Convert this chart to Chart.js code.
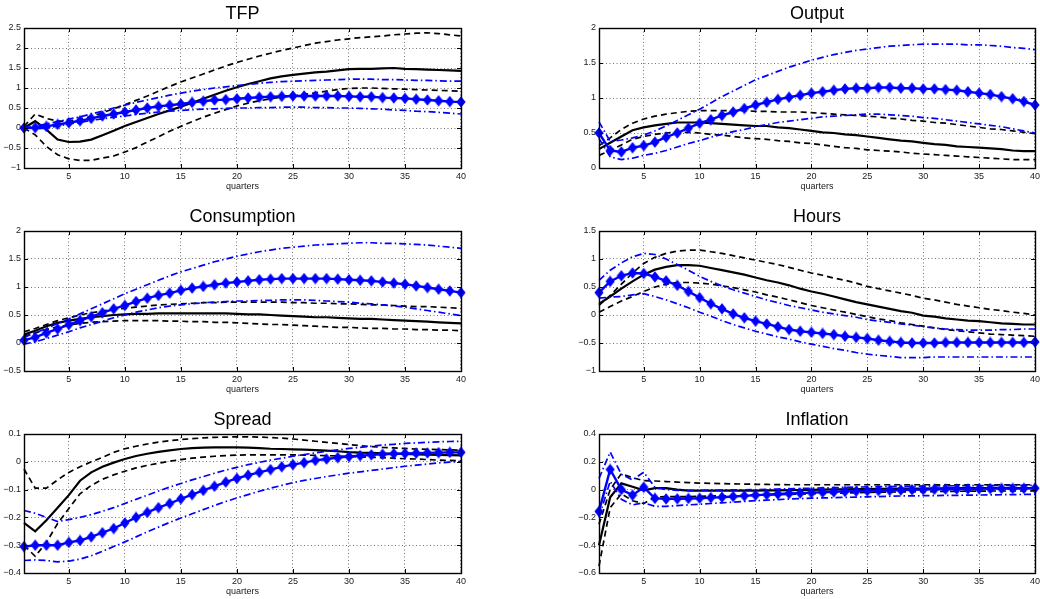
<!DOCTYPE html>
<html><head><meta charset="utf-8">
<script src="https://cdn.jsdelivr.net/npm/chart.js@4"></script>
<style>
body{margin:0;background:#fff;width:1040px;height:599px;overflow:hidden;position:relative;}
canvas{position:absolute;}
</style></head><body>
<canvas id="c0"></canvas><canvas id="c1"></canvas><canvas id="c2"></canvas>
<canvas id="c3"></canvas><canvas id="c4"></canvas><canvas id="c5"></canvas>
<script>
// ---------- data ----------
const quarters = [1,2,3,4,5,6,7,8,9,10,11,12,13,14,15,16,17,18,19,20,21,22,23,24,25,26,27,28,29,30,31,32,33,34,35,36,37,38,39,40];
const xTicks = [5,10,15,20,25,30,35,40];
const xTitle = 'quarters';
const titles = ['TFP','Output','Consumption','Hours','Spread','Inflation'];

const tfpYTicks = [-1,-0.5,0,0.5,1,1.5,2,2.5];
const outputYTicks = [0,0.5,1,1.5,2];
const consYTicks = [-0.5,0,0.5,1,1.5,2];
const hoursYTicks = [-1,-0.5,0,0.5,1,1.5];
const spreadYTicks = [-0.4,-0.3,-0.2,-0.1,0,0.1];
const inflYTicks = [-0.6,-0.4,-0.2,0,0.2,0.4];

// TFP
const tfpBlack = [0,0.17,-0.04,-0.29,-0.35,-0.34,-0.29,-0.18,-0.07,0.05,0.15,0.25,0.35,0.44,0.53,0.63,0.73,0.83,0.93,1.02,1.1,1.17,1.24,1.29,1.33,1.36,1.39,1.41,1.44,1.47,1.48,1.48,1.49,1.5,1.48,1.47,1.46,1.45,1.44,1.43];
const tfpBlackHi = [0.04,0.35,0.24,0.17,0.17,0.22,0.29,0.38,0.48,0.58,0.69,0.8,0.92,1.04,1.15,1.25,1.35,1.45,1.55,1.64,1.72,1.8,1.87,1.94,2.0,2.06,2.12,2.16,2.2,2.23,2.26,2.28,2.3,2.33,2.35,2.37,2.38,2.36,2.33,2.3];
const tfpBlackLo = [0,-0.17,-0.46,-0.67,-0.77,-0.81,-0.81,-0.75,-0.7,-0.6,-0.49,-0.35,-0.22,-0.08,0.04,0.16,0.27,0.37,0.46,0.55,0.62,0.68,0.73,0.77,0.8,0.84,0.88,0.92,0.96,0.99,1.0,1.0,0.99,0.98,0.97,0.96,0.95,0.94,0.93,0.92];
const tfpBlue = [0,0.01,0.04,0.09,0.13,0.18,0.24,0.3,0.35,0.4,0.45,0.5,0.54,0.57,0.6,0.64,0.67,0.7,0.71,0.73,0.75,0.77,0.78,0.79,0.8,0.8,0.8,0.8,0.8,0.79,0.78,0.78,0.76,0.75,0.74,0.72,0.7,0.68,0.66,0.65];
const tfpBlueHi = [0,0.05,0.1,0.16,0.22,0.28,0.35,0.42,0.5,0.57,0.64,0.7,0.76,0.82,0.87,0.92,0.96,1.0,1.03,1.06,1.09,1.12,1.14,1.16,1.17,1.18,1.19,1.2,1.21,1.22,1.22,1.22,1.21,1.21,1.2,1.19,1.19,1.18,1.17,1.17];
const tfpBlueLo = [0,-0.02,0.0,0.05,0.1,0.14,0.19,0.23,0.27,0.3,0.34,0.37,0.4,0.42,0.44,0.46,0.47,0.48,0.49,0.5,0.5,0.51,0.51,0.52,0.52,0.52,0.51,0.51,0.5,0.5,0.49,0.48,0.47,0.45,0.44,0.42,0.41,0.39,0.37,0.35];

// Output
const outBlack = [0.27,0.36,0.45,0.54,0.58,0.61,0.63,0.65,0.65,0.65,0.64,0.63,0.62,0.61,0.6,0.6,0.58,0.57,0.55,0.53,0.51,0.5,0.48,0.47,0.45,0.43,0.41,0.39,0.38,0.36,0.34,0.33,0.31,0.3,0.29,0.28,0.27,0.25,0.24,0.24];
const outBlackHi = [0.32,0.43,0.55,0.64,0.7,0.74,0.77,0.79,0.81,0.82,0.82,0.82,0.82,0.82,0.81,0.81,0.8,0.8,0.8,0.79,0.78,0.77,0.76,0.75,0.74,0.73,0.71,0.7,0.68,0.67,0.65,0.64,0.62,0.6,0.58,0.56,0.55,0.53,0.51,0.49];
const outBlackLo = [0.18,0.25,0.33,0.41,0.45,0.48,0.5,0.51,0.51,0.5,0.48,0.47,0.45,0.43,0.42,0.41,0.39,0.38,0.36,0.35,0.33,0.31,0.29,0.28,0.26,0.25,0.24,0.23,0.21,0.2,0.19,0.18,0.17,0.16,0.15,0.14,0.13,0.12,0.12,0.12];
const outBlue = [0.5,0.25,0.23,0.29,0.32,0.37,0.44,0.5,0.57,0.64,0.69,0.75,0.8,0.85,0.9,0.94,0.98,1.01,1.04,1.07,1.09,1.11,1.13,1.14,1.14,1.15,1.15,1.14,1.14,1.13,1.13,1.12,1.11,1.09,1.07,1.05,1.02,0.99,0.95,0.9];
const outBlueHi = [0.66,0.38,0.4,0.43,0.47,0.53,0.6,0.68,0.76,0.84,0.93,1.02,1.1,1.18,1.26,1.32,1.38,1.44,1.49,1.54,1.58,1.62,1.65,1.68,1.7,1.72,1.74,1.75,1.76,1.77,1.77,1.77,1.77,1.76,1.76,1.75,1.74,1.72,1.71,1.69];
const outBlueLo = [0.42,0.16,0.12,0.14,0.18,0.21,0.25,0.3,0.35,0.39,0.44,0.48,0.52,0.55,0.59,0.62,0.65,0.67,0.69,0.71,0.73,0.74,0.75,0.76,0.77,0.77,0.76,0.75,0.74,0.72,0.71,0.69,0.67,0.65,0.63,0.61,0.59,0.56,0.53,0.5];

// Consumption
const consBlack = [0.15,0.22,0.3,0.36,0.4,0.43,0.46,0.48,0.5,0.51,0.52,0.52,0.53,0.53,0.53,0.53,0.53,0.53,0.53,0.52,0.51,0.51,0.5,0.49,0.48,0.47,0.46,0.46,0.45,0.44,0.43,0.43,0.42,0.41,0.4,0.39,0.38,0.37,0.36,0.35];
const consBlackHi = [0.2,0.26,0.33,0.4,0.45,0.5,0.54,0.57,0.6,0.62,0.64,0.66,0.68,0.69,0.7,0.71,0.72,0.72,0.73,0.73,0.73,0.73,0.73,0.73,0.72,0.72,0.71,0.71,0.7,0.7,0.69,0.68,0.68,0.67,0.66,0.65,0.65,0.64,0.63,0.62];
const consBlackLo = [0.12,0.18,0.24,0.29,0.32,0.35,0.37,0.38,0.39,0.4,0.4,0.4,0.4,0.39,0.39,0.38,0.38,0.37,0.37,0.36,0.35,0.34,0.33,0.33,0.32,0.31,0.3,0.29,0.28,0.28,0.27,0.26,0.26,0.25,0.25,0.24,0.24,0.23,0.23,0.22];
const consBlue = [0.05,0.1,0.18,0.25,0.33,0.4,0.47,0.54,0.61,0.67,0.74,0.8,0.85,0.89,0.94,0.98,1.01,1.04,1.07,1.09,1.11,1.13,1.14,1.15,1.15,1.15,1.15,1.15,1.14,1.13,1.12,1.11,1.09,1.07,1.05,1.02,0.99,0.96,0.93,0.9];
const consBlueHi = [0.1,0.18,0.26,0.35,0.43,0.52,0.61,0.7,0.79,0.88,0.96,1.04,1.12,1.2,1.27,1.33,1.39,1.45,1.5,1.55,1.59,1.63,1.66,1.69,1.71,1.73,1.75,1.76,1.77,1.78,1.79,1.79,1.78,1.78,1.77,1.76,1.75,1.73,1.71,1.69];
const consBlueLo = [-0.02,0.02,0.08,0.14,0.2,0.27,0.33,0.39,0.45,0.5,0.55,0.59,0.63,0.66,0.68,0.7,0.72,0.73,0.74,0.75,0.75,0.76,0.76,0.77,0.77,0.77,0.76,0.75,0.74,0.73,0.71,0.7,0.68,0.66,0.64,0.61,0.58,0.55,0.52,0.49];

// Hours
const hoursBlack = [0.2,0.33,0.47,0.6,0.72,0.81,0.86,0.89,0.89,0.88,0.84,0.8,0.76,0.72,0.67,0.62,0.58,0.53,0.47,0.42,0.38,0.33,0.28,0.23,0.19,0.15,0.11,0.07,0.04,-0.01,-0.03,-0.06,-0.08,-0.1,-0.11,-0.13,-0.15,-0.16,-0.17,-0.17];
const hoursBlackHi = [0.17,0.35,0.55,0.75,0.92,1.03,1.1,1.14,1.16,1.16,1.13,1.1,1.06,1.02,0.98,0.94,0.9,0.85,0.8,0.75,0.71,0.66,0.62,0.57,0.51,0.47,0.43,0.39,0.35,0.3,0.27,0.23,0.19,0.16,0.13,0.1,0.08,0.05,0.03,0.0];
const hoursBlackLo = [0.05,0.15,0.25,0.33,0.42,0.5,0.55,0.58,0.58,0.57,0.55,0.52,0.49,0.45,0.41,0.36,0.32,0.27,0.22,0.17,0.13,0.09,0.05,0.01,-0.03,-0.07,-0.1,-0.14,-0.17,-0.2,-0.23,-0.26,-0.28,-0.3,-0.32,-0.34,-0.35,-0.36,-0.37,-0.38];
const hoursBlue = [0.4,0.6,0.7,0.75,0.74,0.68,0.61,0.53,0.42,0.31,0.2,0.11,0.02,-0.05,-0.11,-0.16,-0.21,-0.26,-0.29,-0.31,-0.33,-0.35,-0.38,-0.4,-0.42,-0.45,-0.47,-0.49,-0.5,-0.5,-0.5,-0.49,-0.49,-0.49,-0.49,-0.49,-0.49,-0.49,-0.49,-0.48];
const hoursBlueHi = [0.62,0.8,0.93,1.04,1.1,1.08,1.0,0.9,0.8,0.69,0.6,0.52,0.45,0.39,0.33,0.27,0.22,0.17,0.13,0.09,0.05,0.02,-0.01,-0.04,-0.08,-0.11,-0.13,-0.16,-0.18,-0.21,-0.23,-0.25,-0.26,-0.27,-0.27,-0.27,-0.26,-0.26,-0.25,-0.25];
const hoursBlueLo = [0.3,0.32,0.33,0.36,0.38,0.33,0.27,0.2,0.13,0.05,-0.02,-0.1,-0.17,-0.23,-0.29,-0.34,-0.39,-0.43,-0.48,-0.52,-0.56,-0.6,-0.63,-0.67,-0.7,-0.72,-0.74,-0.76,-0.76,-0.76,-0.75,-0.75,-0.75,-0.75,-0.75,-0.75,-0.75,-0.75,-0.75,-0.75];

// Spread
const spreadBlack = [-0.22,-0.25,-0.21,-0.165,-0.12,-0.068,-0.038,-0.018,-0.003,0.01,0.021,0.029,0.036,0.041,0.046,0.049,0.051,0.052,0.052,0.052,0.051,0.049,0.047,0.046,0.045,0.044,0.042,0.04,0.038,0.035,0.033,0.032,0.03,0.029,0.028,0.027,0.026,0.025,0.024,0.023];
const spreadBlackHi = [-0.026,-0.095,-0.095,-0.065,-0.038,-0.018,0.0,0.016,0.034,0.047,0.056,0.064,0.071,0.076,0.08,0.083,0.086,0.088,0.089,0.09,0.09,0.089,0.087,0.085,0.082,0.078,0.074,0.07,0.066,0.062,0.058,0.055,0.052,0.05,0.048,0.046,0.045,0.044,0.043,0.042];
const spreadBlackLo = [-0.3,-0.34,-0.29,-0.222,-0.168,-0.115,-0.085,-0.063,-0.047,-0.034,-0.022,-0.013,-0.005,0.002,0.008,0.013,0.017,0.02,0.022,0.024,0.025,0.025,0.025,0.025,0.025,0.024,0.023,0.022,0.021,0.019,0.018,0.016,0.015,0.013,0.011,0.01,0.008,0.006,0.005,0.003];
const spreadBlue = [-0.305,-0.3,-0.3,-0.3,-0.29,-0.283,-0.27,-0.255,-0.24,-0.22,-0.2,-0.182,-0.165,-0.15,-0.133,-0.118,-0.103,-0.088,-0.073,-0.06,-0.048,-0.038,-0.028,-0.018,-0.01,-0.003,0.005,0.01,0.015,0.019,0.022,0.025,0.027,0.029,0.03,0.031,0.032,0.033,0.034,0.034];
const spreadBlueHi = [-0.175,-0.185,-0.2,-0.215,-0.208,-0.2,-0.19,-0.178,-0.165,-0.15,-0.135,-0.12,-0.105,-0.091,-0.078,-0.065,-0.053,-0.041,-0.03,-0.02,-0.01,-0.002,0.006,0.013,0.02,0.026,0.032,0.038,0.043,0.048,0.052,0.056,0.06,0.063,0.066,0.068,0.07,0.072,0.073,0.074];
const spreadBlueLo = [-0.355,-0.353,-0.355,-0.36,-0.357,-0.35,-0.338,-0.322,-0.305,-0.288,-0.27,-0.252,-0.235,-0.218,-0.202,-0.187,-0.172,-0.157,-0.143,-0.13,-0.118,-0.106,-0.095,-0.085,-0.075,-0.067,-0.06,-0.053,-0.047,-0.041,-0.036,-0.031,-0.026,-0.021,-0.016,-0.012,-0.008,-0.004,-0.001,0.001];

// Inflation
const inflBlack = [-0.4,-0.055,0.045,0.02,-0.005,0.01,0.01,0.0,-0.007,-0.008,-0.008,-0.008,-0.008,-0.007,-0.007,-0.006,-0.005,-0.004,-0.003,-0.002,0.0,0.001,0.002,0.003,0.004,0.005,0.006,0.007,0.008,0.008,0.009,0.009,0.01,0.01,0.01,0.01,0.01,0.01,0.01,0.01];
const inflBlackHi = [-0.25,0.0,0.115,0.085,0.065,0.062,0.058,0.054,0.05,0.047,0.045,0.043,0.041,0.04,0.038,0.037,0.036,0.035,0.035,0.035,0.035,0.035,0.035,0.035,0.035,0.035,0.035,0.035,0.035,0.035,0.035,0.035,0.035,0.035,0.035,0.035,0.035,0.035,0.035,0.035];
const inflBlackLo = [-0.55,-0.13,-0.03,-0.08,-0.1,-0.055,-0.05,-0.05,-0.05,-0.048,-0.046,-0.045,-0.043,-0.042,-0.04,-0.038,-0.036,-0.034,-0.032,-0.03,-0.028,-0.026,-0.024,-0.022,-0.02,-0.019,-0.018,-0.017,-0.016,-0.015,-0.014,-0.013,-0.012,-0.011,-0.011,-0.01,-0.01,-0.01,-0.01,-0.01];
const inflBlue = [-0.157,0.145,0.0,-0.04,0.017,-0.063,-0.067,-0.066,-0.064,-0.062,-0.058,-0.055,-0.05,-0.045,-0.04,-0.036,-0.032,-0.028,-0.025,-0.022,-0.019,-0.016,-0.013,-0.011,-0.009,-0.007,-0.005,-0.003,-0.001,0.0,0.002,0.003,0.004,0.005,0.006,0.007,0.008,0.008,0.009,0.01];
const inflBlueHi = [0.08,0.27,0.11,0.07,0.125,0.017,0.0,-0.005,-0.005,-0.005,-0.004,-0.003,-0.002,-0.001,0.0,0.002,0.004,0.006,0.008,0.01,0.012,0.014,0.016,0.018,0.02,0.021,0.022,0.023,0.024,0.025,0.026,0.027,0.028,0.028,0.029,0.029,0.03,0.03,0.03,0.03];
const inflBlueLo = [-0.2,0.06,-0.07,-0.11,-0.095,-0.12,-0.12,-0.115,-0.11,-0.105,-0.1,-0.095,-0.09,-0.085,-0.08,-0.076,-0.072,-0.068,-0.065,-0.062,-0.06,-0.058,-0.056,-0.054,-0.052,-0.05,-0.048,-0.046,-0.045,-0.044,-0.043,-0.042,-0.041,-0.04,-0.039,-0.038,-0.037,-0.036,-0.035,-0.035];

// ---------- layout ----------
const panelSeries = [
  [tfpBlue, tfpBlueHi, tfpBlueLo, tfpBlack, tfpBlackHi, tfpBlackLo],
  [outBlue, outBlueHi, outBlueLo, outBlack, outBlackHi, outBlackLo],
  [consBlue, consBlueHi, consBlueLo, consBlack, consBlackHi, consBlackLo],
  [hoursBlue, hoursBlueHi, hoursBlueLo, hoursBlack, hoursBlackHi, hoursBlackLo],
  [spreadBlue, spreadBlueHi, spreadBlueLo, spreadBlack, spreadBlackHi, spreadBlackLo],
  [inflBlue, inflBlueHi, inflBlueLo, inflBlack, inflBlackHi, inflBlackLo]
];
const panelYTicks = [tfpYTicks, outputYTicks, consYTicks, hoursYTicks, spreadYTicks, inflYTicks];

const colLeft = [24, 599];
const colWidth = [437, 436];
const rowTop = [28, 230.5, 433.5];
const rowHeight = [140, 140, 139];
const PAD_L = 24, PAD_T = 28, PAD_R = 8, PAD_B = 24;
const FONT = '"Liberation Sans", Arial, Helvetica, sans-serif';

Chart.defaults.font.family = FONT;

function makeDiamond() {
  const c = document.createElement('canvas');
  c.width = 10; c.height = 12;
  const g = c.getContext('2d');
  g.fillStyle = '#0000ff';
  g.beginPath();
  g.moveTo(5, 0.3); g.lineTo(9.6, 6); g.lineTo(5, 11.7); g.lineTo(0.4, 6);
  g.closePath(); g.fill();
  return c;
}
const diamondImg = makeDiamond();

function fmt(v) {
  const s = String(Math.abs(v));
  return v < 0 ? '\u2212' + s : s;
}

const framePlugin = {
  id: 'frame',
  afterDraw(chart, args, opts) {
    const {ctx, chartArea: a, scales: {x, y}} = chart;
    ctx.save();
    ctx.setLineDash([]);
    ctx.strokeStyle = '#000';
    ctx.lineWidth = 1;
    ctx.beginPath();
    x.ticks.forEach(t => {
      const px = Math.round(x.getPixelForValue(t.value)) + 0.5;
      ctx.moveTo(px, a.bottom); ctx.lineTo(px, a.bottom - 4);
      ctx.moveTo(px, a.top); ctx.lineTo(px, a.top + 4);
    });
    y.ticks.forEach(t => {
      const py = Math.round(y.getPixelForValue(t.value)) + 0.5;
      ctx.moveTo(a.left, py); ctx.lineTo(a.left + 4, py);
      ctx.moveTo(a.right, py); ctx.lineTo(a.right - 4, py);
    });
    ctx.stroke();
    ctx.lineWidth = 1.4;
    ctx.strokeRect(Math.round(a.left) + 0.5, Math.round(a.top) + 0.5,
                   Math.round(a.right - a.left), Math.round(a.bottom - a.top));
    ctx.fillStyle = '#000';
    ctx.font = '18px ' + FONT;
    ctx.textAlign = 'center';
    ctx.textBaseline = 'alphabetic';
    ctx.fillText(opts.text, (a.left + a.right) / 2, a.top - 9.5);
    ctx.restore();
  }
};

function pts(arr) { return quarters.map((q, i) => ({x: q, y: arr[i]})); }

for (let p = 0; p < 6; p++) {
  const col = p % 2, row = Math.floor(p / 2);
  const cv = document.getElementById('c' + p);
  const w = colWidth[col] + PAD_L + PAD_R;
  const h = rowHeight[row] + PAD_T + PAD_B;
  cv.width = w; cv.height = h;
  cv.style.width = w + 'px'; cv.style.height = h + 'px';
  cv.style.left = (colLeft[col] - PAD_L) + 'px';
  cv.style.top = (rowTop[row] - PAD_T) + 'px';

  const s = panelSeries[p];
  const yt = panelYTicks[p];
  const blueBand = {borderColor: '#0000ff', borderWidth: 1.7, borderDash: [7, 3, 1.5, 3], pointRadius: 0, fill: false, tension: 0, clip: false};
  const blackBand = {borderColor: '#000', borderWidth: 1.7, borderDash: [6, 4], pointRadius: 0, fill: false, tension: 0, clip: false};
  const datasets = [
    {data: pts(s[0]), borderColor: '#0000ff', borderWidth: 2.4, pointStyle: diamondImg, pointRadius: 5, pointHoverRadius: 5, fill: false, tension: 0, clip: false},
    Object.assign({data: pts(s[1])}, blueBand),
    Object.assign({data: pts(s[2])}, blueBand),
    {data: pts(s[3]), borderColor: '#000', borderWidth: 2.2, pointRadius: 0, fill: false, tension: 0, clip: false},
    Object.assign({data: pts(s[4])}, blackBand),
    Object.assign({data: pts(s[5])}, blackBand)
  ];

  new Chart(cv, {
    type: 'line',
    data: {datasets},
    options: {
      responsive: false,
      animation: false,
      events: [],
      layout: {padding: {left: 0, top: PAD_T, right: PAD_R, bottom: 0}},
      plugins: {legend: {display: false}, tooltip: {enabled: false}, title: {display: false}, frame: {text: titles[p]}},
      scales: {
        x: {
          type: 'linear', min: 1, max: 40,
          afterBuildTicks: sc => { sc.ticks = xTicks.map(v => ({value: v})); },
          afterFit: sc => { sc.height = PAD_B; },
          ticks: {autoSkip: false, maxRotation: 0, padding: 3, color: '#1a1a1a', font: {size: 9}, callback: v => fmt(v)},
          grid: {drawTicks: false, color: 'rgba(0,0,0,0.55)', lineWidth: 1},
          border: {display: false, dash: [1, 2.5]},
          title: {display: true, text: xTitle, color: '#1a1a1a', font: {size: 9}, padding: {top: 0, bottom: 0}}
        },
        y: {
          type: 'linear', min: yt[0], max: yt[yt.length - 1],
          afterBuildTicks: sc => { sc.ticks = yt.map(v => ({value: v})); },
          afterFit: sc => { sc.width = PAD_L; },
          ticks: {autoSkip: false, padding: 3, color: '#1a1a1a', font: {size: 9}, callback: v => fmt(v)},
          grid: {drawTicks: false, color: 'rgba(0,0,0,0.55)', lineWidth: 1},
          border: {display: false, dash: [1, 2.5]}
        }
      }
    },
    plugins: [framePlugin]
  });
}
</script>
</body></html>
